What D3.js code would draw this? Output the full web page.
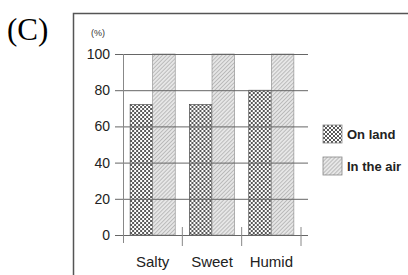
<!DOCTYPE html>
<html>
<head>
<meta charset="utf-8">
<script src="https://cdn.jsdelivr.net/npm/d3@7"></script>
<style>
  body { margin: 0; background: #fff; }
  svg { display: block; }
</style>
</head>
<body>
<script>
// categories along the x axis
const categories = ["Salty", "Sweet", "Humid"];
// series names
const seriesNames = ["On land", "In the air"];
// percentage values for each series
const onLand = [72, 72, 80];
const inTheAir = [100, 100, 100];
// y tick labels
const yTicks = [0, 20, 40, 60, 80, 100];

const W = 408, H = 275;
const svg = d3.select("body").append("svg")
    .attr("width", W)
    .attr("height", H);

// patterns
const defs = svg.append("defs");
const dots = defs.append("pattern")
    .attr("id", "dots")
    .attr("patternUnits", "userSpaceOnUse")
    .attr("width", 4).attr("height", 4);
dots.append("rect").attr("width", 4).attr("height", 4).attr("fill", "#fff");
dots.append("circle").attr("cx", 1).attr("cy", 1).attr("r", 0.95).attr("fill", "#111");
dots.append("circle").attr("cx", 3).attr("cy", 3).attr("r", 0.95).attr("fill", "#111");

const hatch = defs.append("pattern")
    .attr("id", "hatch")
    .attr("patternUnits", "userSpaceOnUse")
    .attr("width", 2.8).attr("height", 2.8)
    .attr("patternTransform", "rotate(45)");
hatch.append("rect").attr("width", 2.8).attr("height", 2.8).attr("fill", "#e6e6e6");
hatch.append("line")
    .attr("x1", 0).attr("y1", 0).attr("x2", 0).attr("y2", 2.8)
    .attr("stroke", "#888").attr("stroke-width", 0.9);

const fills = ["url(#dots)", "url(#hatch)"];

// panel label
svg.append("text")
    .attr("x", 7).attr("y", 40)
    .style("font-family", "'Liberation Serif', 'Times New Roman', serif")
    .style("font-size", "31px")
    .text("(C)");

// frame: left and top border
svg.append("path")
    .attr("d", `M73.5,${H} V13.5 H${W}`)
    .attr("fill", "none")
    .attr("stroke", "#555")
    .attr("stroke-width", 1.5);

// scales
const x0 = d3.scaleBand().domain(categories).range([123, 301]).paddingInner(0.24).paddingOuter(0.12);
const x1 = d3.scaleBand().domain(seriesNames).range([0, x0.bandwidth()]);
const y = d3.scaleLinear().domain([0, 100]).range([235, 54]);

const font = "'Liberation Sans', Arial, sans-serif";

// bars
const data = categories.map((c, i) => ({ cat: c, vals: [onLand[i], inTheAir[i]] }));
const groups = svg.append("g").selectAll("g")
    .data(data)
    .join("g")
    .attr("transform", d => `translate(${x0(d.cat)},0)`);
groups.selectAll("rect")
    .data(d => d.vals.map((v, k) => ({ k, v })))
    .join("rect")
    .attr("x", d => x1(seriesNames[d.k]))
    .attr("y", d => y(d.v))
    .attr("width", x1.bandwidth())
    .attr("height", d => y(0) - y(d.v))
    .attr("fill", d => fills[d.k])
    .attr("stroke", d => d.k === 0 ? "#333" : "#888")
    .attr("stroke-width", 0.6);

// y axis with gridlines drawn over the bars
const yAxis = svg.append("g")
    .attr("transform", "translate(123,0)")
    .call(d3.axisLeft(y).tickValues(yTicks).tickSize(8).tickPadding(5).tickSizeOuter(0));
yAxis.select(".domain").remove();
yAxis.selectAll(".tick line")
    .attr("x1", -8).attr("x2", 185)
    .attr("stroke", "#666").attr("stroke-width", 1);
yAxis.selectAll(".tick text")
    .style("font-family", font)
    .style("font-size", "14px")
    .attr("fill", "#222");

// vertical y axis line
svg.append("line")
    .attr("x1", 123.5).attr("x2", 123.5)
    .attr("y1", y(100)).attr("y2", 243)
    .attr("stroke", "#888").attr("stroke-width", 1);

// category separators on the x axis
const seps = categories.map(c => x0(c) + x0.bandwidth() + x0.step() * x0.paddingInner() / 2);
svg.append("g").selectAll("line")
    .data(seps)
    .join("line")
    .attr("x1", d => d).attr("x2", d => d)
    .attr("y1", 227).attr("y2", 246)
    .attr("stroke", "#888").attr("stroke-width", 1);

// category labels
svg.append("g").selectAll("text")
    .data(categories)
    .join("text")
    .attr("x", d => x0(d) + x0.bandwidth() / 2)
    .attr("y", 267)
    .attr("text-anchor", "middle")
    .style("font-family", font)
    .style("font-size", "15px")
    .attr("fill", "#222")
    .text(d => d);

// unit label
svg.append("text")
    .attr("x", 91).attr("y", 36)
    .style("font-family", font)
    .style("font-size", "9px")
    .attr("fill", "#333")
    .text("(%)");

// legend
const legend = svg.append("g").selectAll("g")
    .data(seriesNames)
    .join("g")
    .attr("transform", (d, i) => `translate(323,${125 + i * 32})`);
legend.append("rect")
    .attr("width", 19).attr("height", 18)
    .attr("fill", (d, i) => fills[i])
    .attr("stroke", "#888").attr("stroke-width", 0.8);
legend.append("text")
    .attr("x", 24).attr("y", 14)
    .style("font-family", font)
    .style("font-size", "13px")
    .style("font-weight", "bold")
    .attr("fill", "#222")
    .text(d => d);
</script>
</body>
</html>
